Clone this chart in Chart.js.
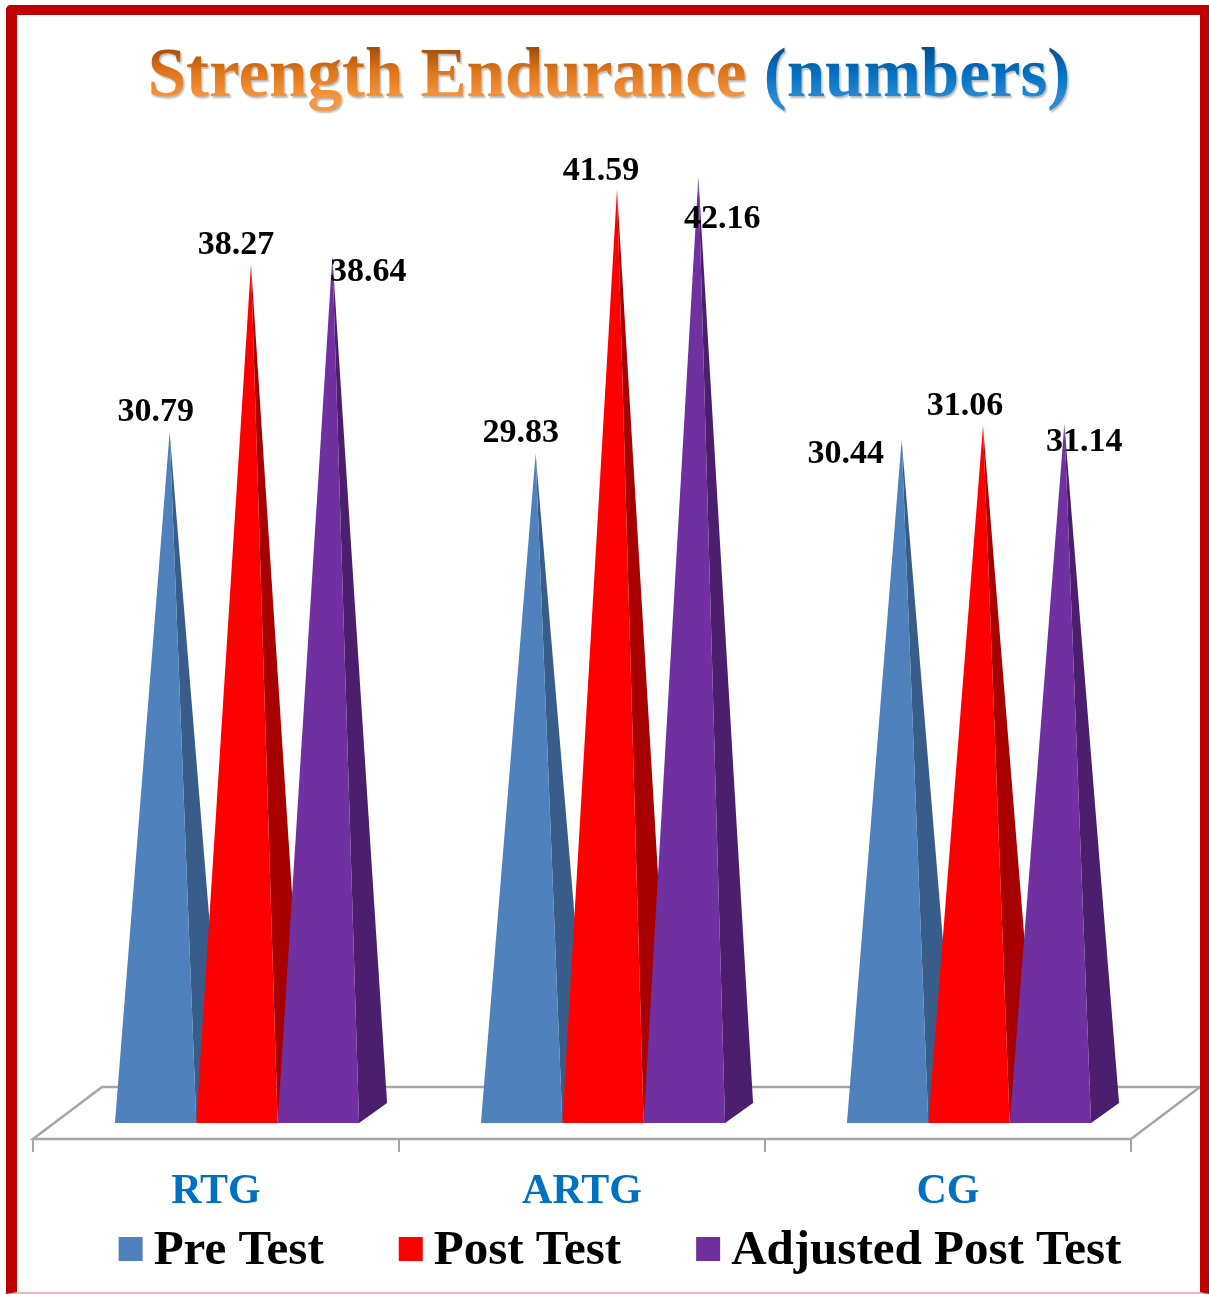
<!DOCTYPE html>
<html>
<head>
<meta charset="utf-8">
<title>Strength Endurance (numbers)</title>
<script src="https://cdn.jsdelivr.net/npm/chart.js@4.4.1/dist/chart.umd.min.js"></script>
<style>
  html, body { margin: 0; padding: 0; background: #ffffff; }
  #wrap { position: relative; width: 1209px; height: 1294px; overflow: hidden; background: #ffffff; }
  #chart { position: absolute; left: 0; top: 0; }
  #frame {
    position: absolute; left: 6px; top: 5px; width: 1183px; height: 1277px;
    border-left: 11px solid #C00000; border-top: 10px solid #C00000;
    border-right: 9px solid #C00000; border-bottom: 2px solid #F2B6B6;
    border-top-left-radius: 5px; pointer-events: none;
  }
</style>
</head>
<body>
<div id="wrap">
  <canvas id="chart" width="1209" height="1294"></canvas>
  <div id="frame"></div>
</div>
<script>
// ---- data ----
const categories = ['RTG', 'ARTG', 'CG'];
const seriesNames = ['Pre Test', 'Post Test', 'Adjusted Post Test'];
const preTest = [30.79, 29.83, 30.44];
const postTest = [38.27, 41.59, 31.06];
const adjustedPostTest = [38.64, 42.16, 31.14];

// ---- styling ----
const faceColors = ['#4F81BD', '#FF0000', '#7030A0'];
const sideColors = ['#385D8A', '#A80000', '#4B1F6E'];
const FONT = '"Liberation Serif", "Times New Roman", serif';

// pyramid base depth (screen offset of the back edge)
const DEPTH_X = 28, DEPTH_Y = -20;
// floor: bars stand this far behind the floor's front edge
const FLOOR_SHIFT_X = 21, FLOOR_SHIFT_Y = 16;
const FLOOR_DX = 69, FLOOR_DY = -52;

// value label placement relative to each pyramid apex [dx, dy], per series then category
const labelNudge = [
  [[-14, -20], [-15, -20], [-56, 14]],
  [[-15, -19], [-16, -18], [-18, -20]],
  [[36, 16], [24, 42], [20, 18]]
];

const seriesValues = [preTest, postTest, adjustedPostTest];

const pyramidPlugin = {
  id: 'pyramids',
  beforeDatasetDraw() { return false; },
  beforeDatasetsDraw(chart) {
    const { ctx, chartArea } = chart;
    const fl = chartArea.left - FLOOR_SHIFT_X;
    const fr = chartArea.right - FLOOR_SHIFT_X;
    const fy = chartArea.bottom + FLOOR_SHIFT_Y;
    ctx.save();
    ctx.strokeStyle = '#A6A6A6';
    ctx.lineWidth = 2.5;
    ctx.lineJoin = 'miter';
    ctx.beginPath();
    ctx.moveTo(fl, fy);
    ctx.lineTo(fl + FLOOR_DX, fy + FLOOR_DY);
    ctx.lineTo(fr + FLOOR_DX, fy + FLOOR_DY);
    ctx.lineTo(fr, fy);
    ctx.closePath();
    ctx.stroke();
    // category boundary tick marks under the front edge
    const step = (fr - fl) / categories.length;
    ctx.lineWidth = 2;
    for (let i = 0; i <= categories.length; i++) {
      const x = fl + i * step;
      ctx.beginPath();
      ctx.moveTo(x, fy);
      ctx.lineTo(x, fy + 13);
      ctx.stroke();
    }
    ctx.restore();
  },
  afterDatasetsDraw(chart) {
    const { ctx } = chart;
    ctx.save();
    chart.data.datasets.forEach((ds, d) => {
      const meta = chart.getDatasetMeta(d);
      meta.data.forEach((el) => {
        const p = el.getProps(['x', 'y', 'base', 'width'], true);
        const half = p.width / 2;
        const ax = p.x + DEPTH_X / 2;
        // right-hand face
        ctx.fillStyle = sideColors[d];
        ctx.beginPath();
        ctx.moveTo(p.x + half, p.base);
        ctx.lineTo(p.x + half + DEPTH_X, p.base + DEPTH_Y);
        ctx.lineTo(ax, p.y);
        ctx.closePath();
        ctx.fill();
        // front face
        ctx.fillStyle = faceColors[d];
        ctx.beginPath();
        ctx.moveTo(p.x - half, p.base);
        ctx.lineTo(p.x + half, p.base);
        ctx.lineTo(ax, p.y);
        ctx.closePath();
        ctx.fill();
      });
    });
    // value labels
    ctx.font = 'bold 34px ' + FONT;
    ctx.fillStyle = '#000000';
    ctx.textAlign = 'center';
    ctx.textBaseline = 'middle';
    chart.data.datasets.forEach((ds, d) => {
      const meta = chart.getDatasetMeta(d);
      meta.data.forEach((el, i) => {
        const p = el.getProps(['x', 'y'], true);
        const n = labelNudge[d][i];
        ctx.fillText(ds.data[i].toFixed(2), p.x + DEPTH_X / 2 + n[0], p.y + n[1]);
      });
    });
    ctx.restore();
  },
  afterDraw(chart) {
    const { ctx } = chart;
    ctx.save();
    // title
    ctx.font = 'bold 69px ' + FONT;
    ctx.textBaseline = 'alphabetic';
    ctx.textAlign = 'left';
    const t1 = 'Strength Endurance ';
    const t2 = '(numbers)';
    const w1 = ctx.measureText(t1).width;
    const w2 = ctx.measureText(t2).width;
    const tx = 609 - (w1 + w2) / 2;
    const ty = 96;
    ctx.shadowColor = 'rgba(0,0,0,0.28)';
    ctx.shadowBlur = 2;
    ctx.shadowOffsetX = 1.5;
    ctx.shadowOffsetY = 1.5;
    const g1 = ctx.createLinearGradient(0, 48, 0, 98);
    g1.addColorStop(0, '#A04E0A');
    g1.addColorStop(0.45, '#DD7418');
    g1.addColorStop(1, '#F69640');
    ctx.fillStyle = g1;
    ctx.fillText(t1, tx, ty);
    const g2 = ctx.createLinearGradient(0, 48, 0, 98);
    g2.addColorStop(0, '#05508F');
    g2.addColorStop(0.5, '#0070C0');
    g2.addColorStop(1, '#2A8AD4');
    ctx.fillStyle = g2;
    ctx.fillText(t2, tx + w1, ty);
    ctx.shadowColor = 'rgba(0,0,0,0)';

    // legend
    ctx.font = 'bold 49px ' + FONT;
    const box = 24, gap = 11, spacing = 75;
    const widths = chart.data.datasets.map(ds => box + gap + ctx.measureText(ds.label).width);
    const total = widths.reduce((a, b) => a + b, 0) + spacing * (widths.length - 1);
    let lx = 620 - total / 2;
    const baseY = 1264;
    chart.data.datasets.forEach((ds, d) => {
      ctx.fillStyle = faceColors[d];
      ctx.fillRect(lx, baseY - 27, box, box);
      ctx.fillStyle = '#000000';
      ctx.fillText(ds.label, lx + box + gap, baseY);
      lx += widths[d] + spacing;
    });
    ctx.restore();
  }
};

new Chart(document.getElementById('chart'), {
  type: 'bar',
  data: {
    labels: categories,
    datasets: seriesNames.map((name, d) => ({
      label: name,
      data: seriesValues[d],
      backgroundColor: faceColors[d],
      categoryPercentage: 0.667,
      barPercentage: 1.0
    }))
  },
  options: {
    responsive: false,
    animation: false,
    devicePixelRatio: 1,
    layout: { padding: { top: 113, left: 54, right: 57, bottom: 51 } },
    plugins: {
      legend: { display: false },
      title: { display: false },
      tooltip: { enabled: false }
    },
    scales: {
      x: {
        grid: { display: false, drawTicks: false },
        border: { display: false },
        ticks: {
          color: '#0070C0',
          font: { family: FONT, size: 42, weight: 'bold' },
          padding: 44,
          labelOffset: -FLOOR_SHIFT_X,
          maxRotation: 0
        },
        afterFit(scale) { scale.height = 120; }
      },
      y: {
        display: false,
        min: 0,
        max: 45
      }
    }
  },
  plugins: [pyramidPlugin]
});
</script>
</body>
</html>
